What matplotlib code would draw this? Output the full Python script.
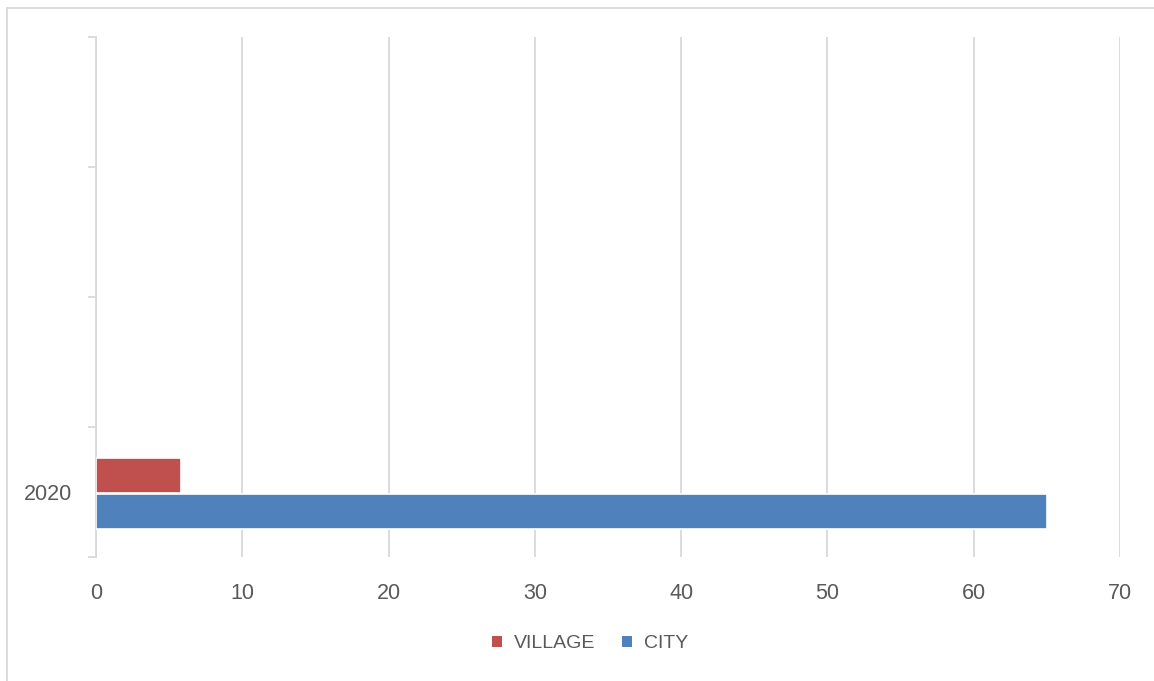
import matplotlib.pyplot as plt
import numpy as np
from matplotlib.lines import Line2D
from matplotlib.patches import Patch

# 数据
categories = ['2020', '', '', '']
village = [5.8]
city = [65]
series_names = ['VILLAGE', 'CITY']
colors = ['#c0504d', '#4f81bd']
x_ticks = [0, 10, 20, 30, 40, 50, 60, 70]

plt.rcParams['font.family'] = ['Liberation Sans', 'DejaVu Sans']
text_color = '#595959'
line_color = '#d9d9d9'

fig = plt.figure(figsize=(11.54, 6.81), dpi=100)
ax = fig.add_axes([96 / 1154, 1 - 557 / 681, 1024 / 1154, 520 / 681])

n = len(categories)
y = np.arange(n)
bar_h = 0.27
ax.barh(y[:len(village)] + 0.13, village, height=bar_h, color=colors[0],
        edgecolor='white', linewidth=1.2, zorder=3)
ax.barh(y[:len(city)] - 0.15, city, height=bar_h, color=colors[1],
        edgecolor='white', linewidth=1.2, zorder=3)

ax.set_xlim(0, 70)
ax.set_ylim(-0.5, n - 0.5)
ax.set_xticks(x_ticks)
ax.set_xticklabels([str(t) for t in x_ticks])
ax.set_yticks(y)
ax.set_yticklabels(categories)
ax.set_yticks(np.arange(n + 1) - 0.5, minor=True)

ax.grid(axis='x', color=line_color, linewidth=1.3, zorder=0)
for s in ['top', 'right', 'bottom']:
    ax.spines[s].set_visible(False)
ax.spines['left'].set_color(line_color)
ax.spines['left'].set_linewidth(1.3)

ax.tick_params(axis='x', length=0, pad=19, labelsize=15.5, labelcolor=text_color)
ax.tick_params(axis='y', which='major', length=0, pad=17, labelsize=15.5,
               labelcolor=text_color)
ax.tick_params(axis='y', which='minor', length=6, width=1.3, color=line_color)

# 图例
handles = [Patch(facecolor=c, edgecolor='none') for c in colors]
leg = fig.legend(handles, series_names, loc='center', ncol=2,
                 bbox_to_anchor=(590 / 1154, 1 - 644 / 681), frameon=False,
                 handlelength=0.5, handleheight=0.5, handletextpad=0.6,
                 columnspacing=1.4, fontsize=14)
for t in leg.get_texts():
    t.set_color(text_color)

# 外框（左、上）
fig.add_artist(Line2D([7 / 1154, 7 / 1154], [0, 1 - 8 / 681],
                      color=line_color, linewidth=1.3))
fig.add_artist(Line2D([7 / 1154, 1], [1 - 8 / 681, 1 - 8 / 681],
                      color=line_color, linewidth=1.3))

fig.savefig('out.png', dpi=100, facecolor='white')
